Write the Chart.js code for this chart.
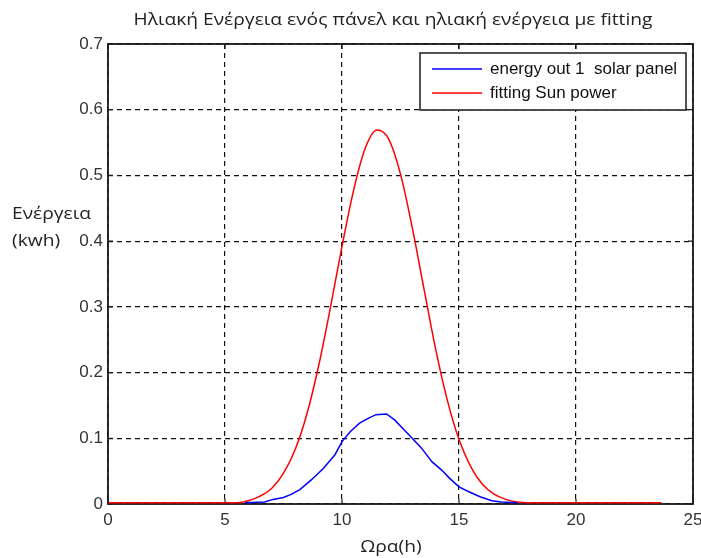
<!DOCTYPE html>
<html>
<head>
<meta charset="utf-8">
<script src="https://cdn.jsdelivr.net/npm/chart.js@4.4.1/dist/chart.umd.min.js"></script>
<style>
  html, body { margin: 0; padding: 0; background: #fff; }
  #wrap { width: 701px; height: 558px; position: relative; }
</style>
</head>
<body>
<div id="wrap"><canvas id="chart_solarEnergy"></canvas></div>
<script>
// hours of the day and energy (kwh)
var fitHours = [0, 5.5, 6, 6.5, 7, 7.5, 8, 8.5, 9, 9.5, 10, 10.5, 11, 11.5, 12, 12.5, 13, 13.5, 14, 14.5, 15, 15.5, 16, 16.5, 17, 17.5, 18, 23.65];
var fitEnergy = [0.002, 0.002, 0.005, 0.012, 0.024, 0.047, 0.083, 0.137, 0.21, 0.298, 0.392, 0.478, 0.542, 0.569, 0.555, 0.502, 0.421, 0.328, 0.236, 0.158, 0.098, 0.057, 0.030, 0.015, 0.007, 0.003, 0.002, 0.002];

var panelHours = [5.85, 6.7, 7.05, 7.5, 7.85, 8.2, 8.7, 9.2, 9.7, 10.0, 10.35, 10.75, 11.1, 11.45, 11.9, 12.25, 12.6, 13.0, 13.4, 13.85, 14.25, 14.6, 15.0, 15.4, 15.9, 16.4, 16.8, 17.5];
var panelEnergy = [0.002, 0.003, 0.007, 0.010, 0.015, 0.022, 0.037, 0.054, 0.075, 0.095, 0.110, 0.123, 0.130, 0.136, 0.137, 0.128, 0.115, 0.100, 0.085, 0.064, 0.052, 0.039, 0.026, 0.019, 0.011, 0.005, 0.003, 0.002];

var seriesLabels = ['energy out 1  solar panel', 'fitting Sun power'];
var xTicks = [0, 5, 10, 15, 20, 25];
var yTicks = [0, 0.1, 0.2, 0.3, 0.4, 0.5, 0.6, 0.7];

var chartTitle = 'Ηλιακή Ενέργεια ενός πάνελ και ηλιακή ενέργεια με fitting';
var xTitle = 'Ωρα(h)';
var yTitle = ['Ενέργεια', '(kwh)'];

function toPoints(xs, ys) {
    return xs.map(function(x, i) { return {x: x, y: ys[i]}; });
}

var frameColor = '#1a1a1a';
var textColor = '#222';
var textFont = '16px "Open Sans", sans-serif';

// text squeezed wide, like the exported figure
function wideText(ctx, str, x, y, align) {
    var sx = 1.2;
    ctx.save();
    ctx.textAlign = align;
    ctx.translate(x, y);
    ctx.scale(sx, 1);
    ctx.fillText(str, 0, 0);
    ctx.restore();
}

// solid box round the plot, inward tick marks, legend box and titles
var matlabAxes = {
    id: 'matlabAxes',
    beforeDatasetsDraw: (chart) => {
        const ctx = chart.ctx;
        const a = chart.chartArea;
        const xs = chart.scales.x, ys = chart.scales.y;
        ctx.save();
        ctx.strokeStyle = frameColor;
        ctx.lineWidth = 1.8;
        ctx.strokeRect(a.left, a.top, a.right - a.left, a.bottom - a.top);
        ctx.lineWidth = 1.2;
        ctx.beginPath();
        xTicks.forEach(v => {
            const px = xs.getPixelForValue(v);
            ctx.moveTo(px, a.bottom); ctx.lineTo(px, a.bottom - 5);
            ctx.moveTo(px, a.top); ctx.lineTo(px, a.top + 5);
        });
        yTicks.forEach(v => {
            const py = ys.getPixelForValue(v);
            ctx.moveTo(a.left, py); ctx.lineTo(a.left + 5, py);
            ctx.moveTo(a.right, py); ctx.lineTo(a.right - 5, py);
        });
        ctx.stroke();
        ctx.restore();
    },
    afterDraw: (chart) => {
        const ctx = chart.ctx;
        const a = chart.chartArea;
        ctx.save();
        // legend
        const bx = a.left + 312, by = a.top + 9, bw = 266, bh = 57;
        ctx.fillStyle = '#fff';
        ctx.fillRect(bx, by, bw, bh);
        ctx.strokeStyle = frameColor;
        ctx.lineWidth = 1.5;
        ctx.strokeRect(bx, by, bw, bh);
        ctx.font = '17px "Liberation Sans", Arial, sans-serif';
        ctx.textBaseline = 'middle';
        ctx.textAlign = 'left';
        chart.data.datasets.forEach((ds, i) => {
            const ly = by + 16 + i * 24;
            ctx.strokeStyle = ds.borderColor;
            ctx.lineWidth = 1.5;
            ctx.beginPath();
            ctx.moveTo(bx + 12, ly); ctx.lineTo(bx + 62, ly);
            ctx.stroke();
            ctx.fillStyle = '#111';
            ctx.fillText(ds.label, bx + 70, ly);
        });
        // titles
        ctx.fillStyle = textColor;
        ctx.font = textFont;
        ctx.textBaseline = 'alphabetic';
        wideText(ctx, chartTitle, 393, 25, 'center');
        wideText(ctx, xTitle, 391, 552, 'center');
        wideText(ctx, yTitle[0], 12, 219, 'left');
        wideText(ctx, yTitle[1], 12, 246, 'left');
        ctx.restore();
    }
};

var chart_solarEnergy = new Chart(document.getElementById('chart_solarEnergy'), {
    type: 'line',
    data: {
        datasets: [
            {
                label: seriesLabels[0],
                data: toPoints(panelHours, panelEnergy),
                borderColor: '#0000ff',
                borderWidth: 1.5,
                pointRadius: 0,
                tension: 0
            },
            {
                label: seriesLabels[1],
                data: toPoints(fitHours, fitEnergy),
                borderColor: '#ff0000',
                borderWidth: 1.5,
                pointRadius: 0,
                cubicInterpolationMode: 'monotone'
            }
        ]
    },
    options: {
        animation: false,
        responsive: true,
        maintainAspectRatio: false,
        layout: {
            padding: {top: 44, right: 8, bottom: 0, left: 0}
        },
        plugins: {
            legend: {display: false},
            tooltip: {enabled: false},
            title: {display: false}
        },
        scales: {
            x: {
                type: 'linear',
                min: 0,
                max: 25,
                afterBuildTicks: (scale) => { scale.ticks = xTicks.map(v => ({value: v})); },
                afterFit: (scale) => {
                    scale.height = 54;
                    scale.paddingLeft = 0;
                    scale.paddingRight = 0;
                },
                ticks: {
                    color: '#333',
                    padding: 6,
                    font: {family: '"Liberation Sans", Arial, sans-serif', size: 17}
                },
                grid: {
                    color: '#111',
                    lineWidth: 1.2,
                    drawTicks: false
                },
                border: {display: false, dash: [5, 4]}
            },
            y: {
                type: 'linear',
                min: 0,
                max: 0.7,
                afterBuildTicks: (scale) => { scale.ticks = yTicks.map(v => ({value: v})); },
                afterFit: (scale) => {
                    scale.width = 108;
                    scale.paddingTop = 0;
                    scale.paddingBottom = 0;
                },
                ticks: {
                    color: '#333',
                    padding: 5,
                    font: {family: '"Liberation Sans", Arial, sans-serif', size: 17},
                    callback: (value) => String(+value.toFixed(1))
                },
                grid: {
                    color: '#111',
                    lineWidth: 1.2,
                    drawTicks: false
                },
                border: {display: false, dash: [5, 4]}
            }
        }
    },
    plugins: [matlabAxes]
});
</script>
</body>
</html>
